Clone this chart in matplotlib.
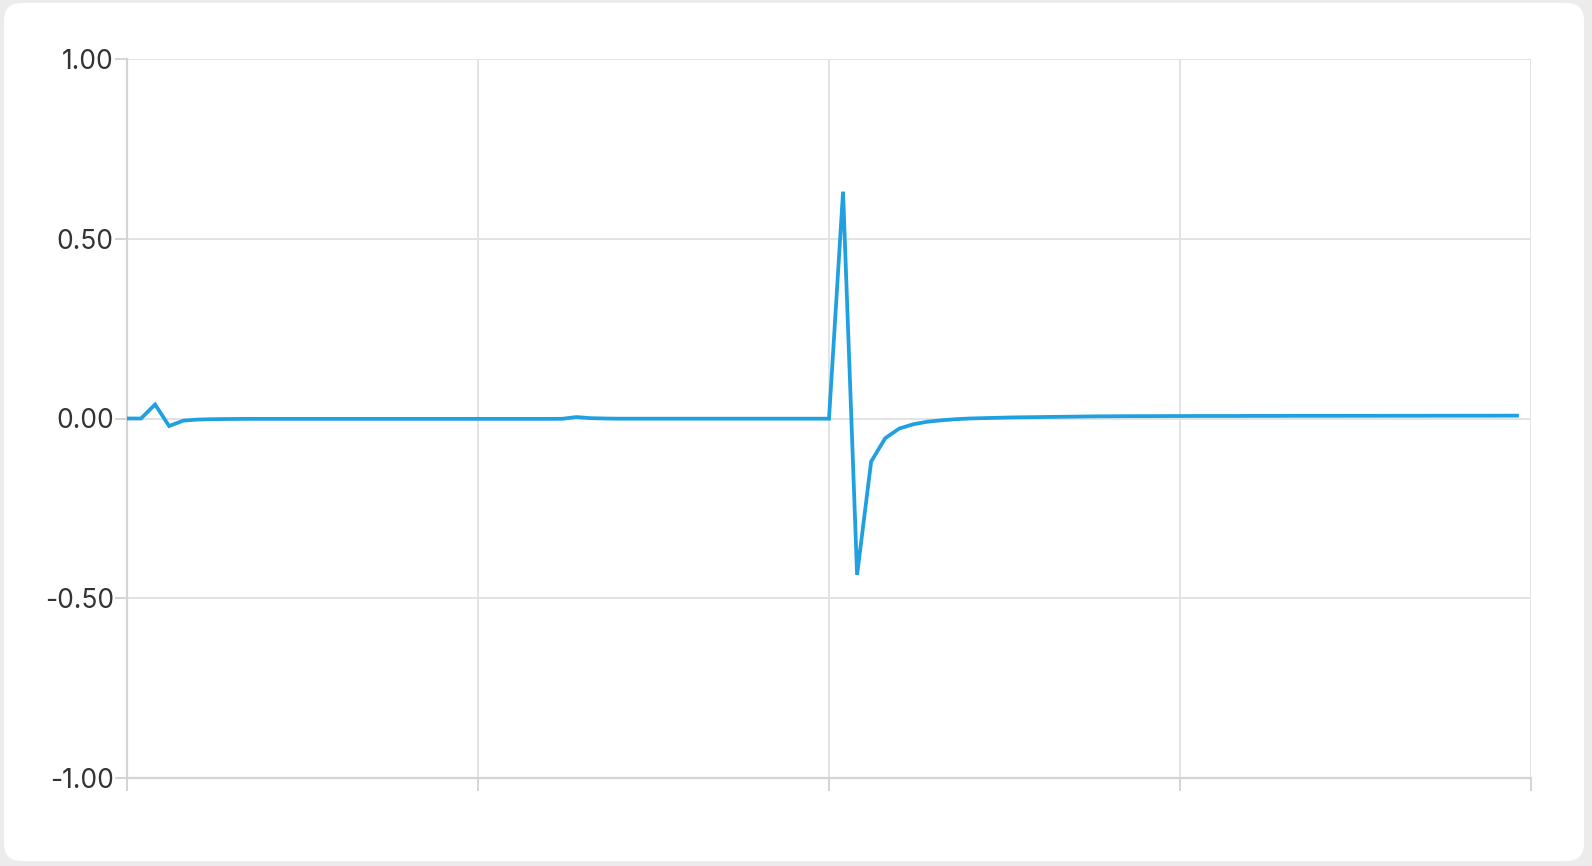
import matplotlib.pyplot as plt
from matplotlib.patches import FancyBboxPatch

## Data
x_ticks = [0, 25, 50, 75, 100]
y_ticks = [-1.0, -0.5, 0.0, 0.5, 1.0]
y_labels = ["-1.00", "-0.50", "0.00", "0.50", "1.00"]

step = list(range(100))
values = [
    0.000, 0.000, 0.039, -0.021, -0.006, -0.003, -0.002, -0.0015, -0.0012, -0.001,
    -0.001, -0.001, -0.001, -0.001, -0.001, -0.001, -0.001, -0.001, -0.001, -0.001,
    -0.001, -0.001, -0.001, -0.001, -0.001, -0.001, -0.001, -0.001, -0.001, -0.001,
    -0.001, -0.0008, 0.004, 0.001, 0.000, -0.0005, -0.0005, -0.0005, -0.0005, -0.0005,
    -0.0005, -0.0005, -0.0005, -0.0005, -0.0005, -0.0005, -0.0005, -0.0005, -0.0005, -0.0005,
    -0.0005, 0.631, -0.435, -0.120, -0.055, -0.028, -0.016, -0.009, -0.005, -0.002,
    0.000, 0.001, 0.002, 0.003, 0.0035, 0.004, 0.0045, 0.005, 0.0055, 0.006,
    0.0062, 0.0064, 0.0066, 0.0066, 0.0068, 0.0068, 0.007, 0.007, 0.007, 0.007,
    0.0072, 0.0072, 0.0072, 0.0074, 0.0074, 0.0074, 0.0074, 0.0075, 0.0075, 0.0075,
    0.0076, 0.0076, 0.0076, 0.0077, 0.0077, 0.0078, 0.0078, 0.0078, 0.0079, 0.008,
]

line_color = "#1fa0e0"
grid_color = "#e3e3e3"
axis_color = "#d4d4d4"
text_color = "#333336"

plt.rcParams['font.family'] = ['Inter', 'DejaVu Sans']

fig = plt.figure(figsize=(15.92, 8.66), dpi=100)
fig.patch.set_facecolor("#ececec")

# white rounded card behind the plot
W, H = 1592, 866
card = FancyBboxPatch((4 / W, 5 / H), 1580 / W, 858 / H,
                      boxstyle="round,pad=0,rounding_size=0.011",
                      transform=fig.transFigure, facecolor="white",
                      edgecolor="none", mutation_aspect=W / H, zorder=-5)
fig.patches.append(card)

ax = fig.add_axes([127 / W, 88 / H, 1404 / W, 719 / H])
ax.set_facecolor("none")

ax.plot(step, values, color=line_color, linewidth=2.7, solid_joinstyle="miter", zorder=3)

ax.set_xlim(0, 100)
ax.set_ylim(-1, 1)
ax.set_xticks(x_ticks)
ax.set_xticklabels([])
ax.set_yticks(y_ticks)
ax.set_yticklabels(y_labels)

ax.grid(True, color=grid_color, linewidth=1.4, zorder=1)
for side in ["top", "right"]:
    ax.spines[side].set_visible(False)
for side in ["left", "bottom"]:
    ax.spines[side].set_color(axis_color)
    ax.spines[side].set_linewidth(1.6)

ax.tick_params(axis="both", length=9, width=1.4, color=axis_color,
               labelcolor=text_color, labelsize=19, pad=0.5)

fig.savefig("out.png", dpi=100, facecolor=fig.get_facecolor())
